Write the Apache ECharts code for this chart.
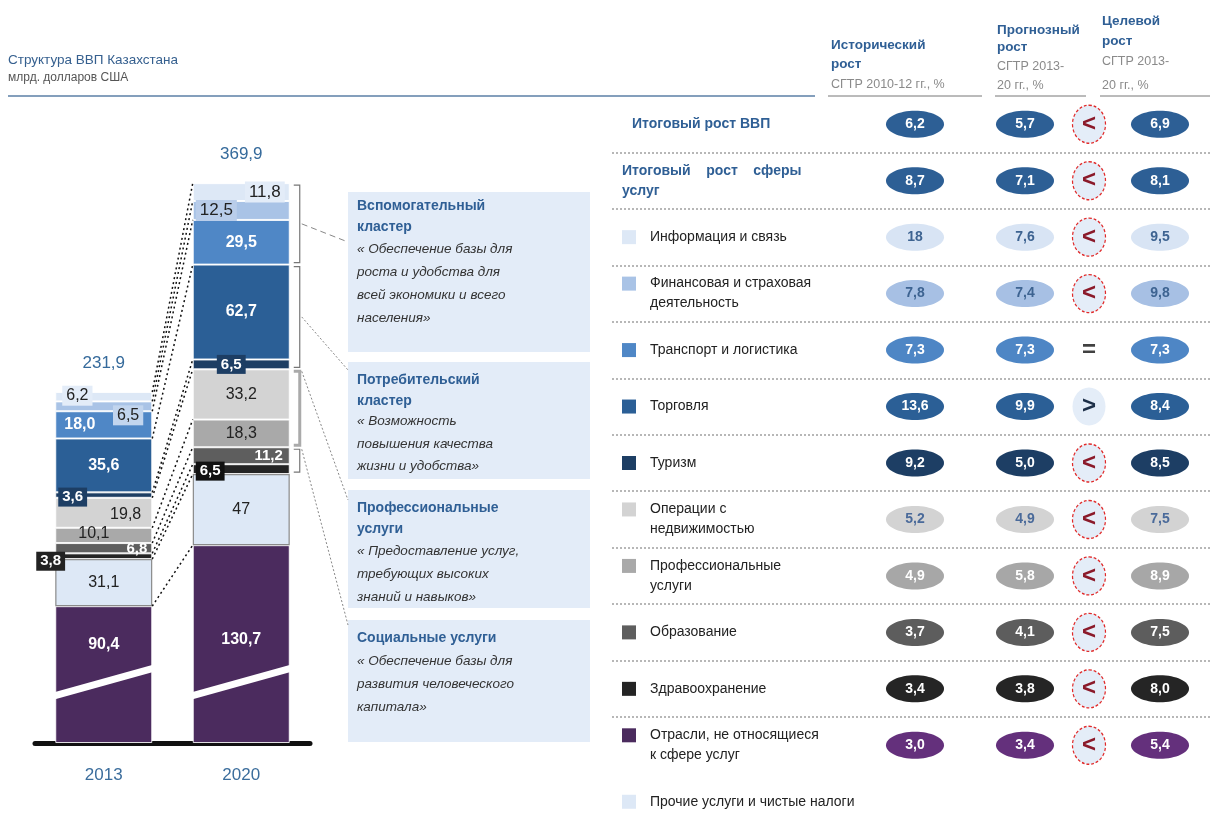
<!DOCTYPE html>
<html><head><meta charset="utf-8">
<script src="https://cdn.jsdelivr.net/npm/echarts@6/dist/echarts.min.js"></script>
<style>html,body{margin:0;padding:0;background:#fff}#c{width:1217px;height:830px}</style>
</head><body><div id="c"></div>
<script>
// ---------------- DATA ----------------
const years = ['2013', '2020'];
const segmentNames = ['Отрасли, не относящиеся к сфере услуг', 'Прочие услуги и чистые налоги', 'Здравоохранение', 'Образование', 'Профессиональные услуги', 'Операции с недвижимостью', 'Туризм', 'Торговля', 'Транспорт и логистика', 'Финансовая и страховая деятельность', 'Информация и связь'];
const gdp2013 = [90.4, 31.1, 3.8, 6.8, 10.1, 19.8, 3.6, 35.6, 18.0, 6.5, 6.2];
const gdp2020 = [130.7, 47, 6.5, 11.2, 18.3, 33.2, 6.5, 62.7, 29.5, 12.5, 11.8];

const rowLabels = ['Итоговый рост ВВП', 'Итоговый    рост    сферы\nуслуг', 'Информация и связь', 'Финансовая и страховая\nдеятельность', 'Транспорт и логистика', 'Торговля', 'Туризм', 'Операции с\nнедвижимостью', 'Профессиональные\nуслуги', 'Образование', 'Здравоохранение', 'Отрасли, не относящиеся\nк сфере услуг', 'Прочие услуги и чистые налоги'];
const histCAGR     = [6.2, 8.7, 18, 7.8, 7.3, 13.6, 9.2, 5.2, 4.9, 3.7, 3.4, 3.0];
const forecastCAGR = [5.7, 7.1, 7.6, 7.4, 7.3, 9.9, 5.0, 4.9, 5.8, 4.1, 3.8, 3.4];
const targetCAGR   = [6.9, 8.1, 9.5, 9.8, 7.3, 8.4, 8.5, 7.5, 8.9, 7.5, 8.0, 5.4];

const chartTitle = 'Структура ВВП Казахстана';
const chartUnit = 'млрд. долларов США';
const columnHeads = [
  ['Исторический', 'рост', 'СГТР 2010-12 гг., %'],
  ['Прогнозный', 'рост', 'СГТР 2013-', '20 гг., %'],
  ['Целевой', 'рост', 'СГТР 2013-', '20 гг., %']
];
const clusterTitles = ['Вспомогательный\nкластер', 'Потребительский\nкластер', 'Профессиональные\nуслуги', 'Социальные услуги'];
const clusterTexts = [
  '« Обеспечение базы для\nроста и удобства для\nвсей экономики и всего\nнаселения»',
  '« Возможность\nповышения качества\nжизни и удобства»',
  '« Предоставление услуг,\nтребующих высоких\nзнаний и навыков»',
  '« Обеспечение базы для\nразвития человеческого\nкапитала»'
];
const clusterSegments = [[8, 11], [6, 8], [4, 6], [2, 4]]; // segment index ranges per cluster
const breakAt = 40;

// ---------------- STYLE ----------------
const FONT = "'Liberation Sans', Arial, sans-serif";
const NARROW = "'Liberation Sans Narrow', 'Liberation Sans', Arial, sans-serif";
const BLUE = '#2f5f95';
const segColors = ['#4b2b5e', '#dde8f6', '#242424', '#5e5e5e', '#a9a9a9', '#d3d3d3', '#1d3e64', '#2b5f96', '#4f87c6', '#a9c3e6', '#dde8f6'];
const rowSegment = [null, null, 10, 9, 8, 7, 6, 5, 4, 3, 2, 0, 1];
const rowFill = ['#2d5f95', '#2d5f95', '#d8e4f4', '#a7c0e4', '#4e86c5', '#2b5f96', '#1d3e64', '#d3d3d3', '#a7a7a7', '#5d5d5d', '#252525', '#64307c'];
const rowText = ['#fff', '#fff', '#3d6391', '#3d6391', '#fff', '#fff', '#fff', '#4a6a9a', '#fff', '#fff', '#fff', '#fff'];
const ELLIPSE = 'path://M50,0C77.6,0,100,22.4,100,50C100,77.6,77.6,100,50,100C22.4,100,0,77.6,0,50C0,22.4,22.4,0,50,0Z';
const barDecimals = [[1, 1], [1, 0], [1, 1], [1, 1], [1, 1], [1, 1], [1, 1], [1, 1], [1, 1], [1, 1], [1, 1]];

const W = {color: '#fff', fontWeight: 'bold', fontSize: 16, fontFamily: FONT};
const D = {color: '#222', fontSize: 16, fontFamily: FONT};
const boxL = (bg, extra) => Object.assign({}, D, {backgroundColor: bg, padding: [2, 4]}, extra);
const boxW = (bg, extra) => Object.assign({}, W, {fontSize: 15, backgroundColor: bg, padding: [2, 4]}, extra);
const labelCfg = [
  [Object.assign({}, W, {position: 'inside', offset: [0, -30]}), Object.assign({}, W, {position: 'inside', offset: [0, -4]})],
  [Object.assign({}, D, {position: 'inside'}), Object.assign({}, D, {position: 'inside'})],
  [boxW('#222', {position: 'insideLeft', offset: [-24, 5]}), boxW('#111', {position: 'insideLeft', offset: [-2, 2]})],
  [Object.assign({}, W, {fontSize: 15, position: 'insideRight', offset: [0, 1]}), Object.assign({}, W, {fontSize: 15, position: 'insideRight', offset: [-2, 0]})],
  [Object.assign({}, D, {position: 'insideLeft', offset: [18, -2]}), Object.assign({}, D, {position: 'inside'})],
  [Object.assign({}, D, {position: 'insideRight', offset: [-6, 2]}), Object.assign({}, D, {position: 'inside'})],
  [boxW('#1d3e64', {position: 'insideLeft', offset: [-2, 2]}), boxW('#1d3e64', {position: 'inside', offset: [-10, 0]})],
  [Object.assign({}, W, {position: 'inside'}), Object.assign({}, W, {position: 'inside'})],
  [Object.assign({}, W, {position: 'insideLeft', offset: [4, 0]}), Object.assign({}, W, {position: 'inside'})],
  [boxL('#c2d5ee', {position: 'insideRight', offset: [-4, 9]}), boxL('#b9cdea', {fontSize: 17, position: 'insideLeft', offset: [-2, 0]})],
  [boxL('#e3ecf8', {position: 'insideLeft', offset: [2, -1]}), boxL('#e3ecf8', {fontSize: 17, position: 'insideRight', offset: [0, 0]})]
];

const fmtD = (v, d) => v.toFixed(d).replace('.', ',');
const fmt = v => (Number.isInteger(v) && v >= 10) ? String(v) : fmtD(v, 1);

// ---------------- BUILD ----------------
const chart = echarts.init(document.getElementById('c'));
const BAR_W = 97;
const tableTop = 96, tableH = 737;
const colCenters = [915, 1025, 1089, 1160];

const series = [];
segmentNames.forEach((name, s) => {
  series.push({
    name, type: 'bar', stack: 'gdp', xAxisIndex: 0, yAxisIndex: 0, barWidth: BAR_W,
    itemStyle: s === 1 ? {color: segColors[s], borderColor: '#8a8a8a', borderWidth: 1.2}
                       : {color: segColors[s], borderColor: 'rgba(255,255,255,0.85)', borderWidth: 1},
    label: {show: true},
    data: [gdp2013[s], gdp2020[s]].map((v, c) => ({
      value: v,
      label: Object.assign({show: true, formatter: () => fmtD(v, barDecimals[s][c])}, labelCfg[s][c])
    }))
  });
});
const sum = a => a.reduce((p, q) => p + q, 0);
const totals = [sum(gdp2013), sum(gdp2020)];
series.push({
  type: 'scatter', xAxisIndex: 0, yAxisIndex: 0, symbolSize: 1, itemStyle: {color: 'rgba(0,0,0,0)', opacity: 1},
  label: {show: true, position: 'top', distance: 20, color: '#356a9b', fontSize: 17, fontFamily: FONT,
          formatter: p => fmtD(p.value[1], 1)},
  data: totals.map((t, c) => [c, t])
});

function ellipseSeries(values, gi) {
  return {
    type: 'scatter', xAxisIndex: gi, yAxisIndex: gi, symbol: ELLIPSE, symbolSize: [58, 27],
    data: values.map((v, i) => ({
      value: [0, i, v],
      itemStyle: {color: rowFill[i], opacity: 1},
      label: {show: true, position: 'inside', formatter: () => fmt(v), color: rowText[i],
              fontSize: 14, fontWeight: 'bold', fontFamily: NARROW}
    }))
  };
}
series.push(ellipseSeries(histCAGR, 2));
series.push(ellipseSeries(forecastCAGR, 3));
series.push({
  type: 'scatter', xAxisIndex: 4, yAxisIndex: 4, symbol: ELLIPSE, symbolSize: [33, 38],
  data: forecastCAGR.map((f, i) => {
    const t = targetCAGR[i];
    const sym = f < t ? '<' : (f > t ? '>' : '=');
    const style = sym === '<' ? {color: '#e4edf8', borderColor: '#e02a2a', borderWidth: 1.3, borderType: [3, 2], opacity: 1}
                : sym === '>' ? {color: '#e4edf8', borderWidth: 0, opacity: 1}
                : {color: 'rgba(0,0,0,0)', borderWidth: 0};
    return {
      value: [0, i],
      itemStyle: style,
      label: {show: true, position: 'inside', formatter: sym, fontSize: 24, fontWeight: 'bold', fontFamily: FONT,
              color: sym === '<' ? '#8b1a2a' : (sym === '=' ? '#111' : '#1d2f48')}
    };
  })
});
series.push(ellipseSeries(targetCAGR, 5));

const rich = {
  h0: {fontSize: 14, fontWeight: 'bold', color: BLUE, fontFamily: FONT, padding: [0, 0, 0, 10], lineHeight: 20},
  h: {fontSize: 14, fontWeight: 'bold', color: BLUE, fontFamily: FONT, lineHeight: 20},
  t: {fontSize: 14, color: '#222', fontFamily: FONT, padding: [0, 0, 0, 14], lineHeight: 20},
  g: {width: 14, height: 14}
};
rowLabels.forEach((_, i) => {
  if (rowSegment[i] != null) rich['s' + i] = {width: 14, height: 14, backgroundColor: segColors[rowSegment[i]]};
});

const grids = [{left: 35, top: 183, width: 275, height: 560},
               {left: 612, top: tableTop, width: 598, height: tableH}];
colCenters.forEach(cx => grids.push({left: cx - 35, top: tableTop, width: 70, height: tableH}));

const lastRow = rowLabels.length - 1;
const xAxes = [
  {type: 'category', gridIndex: 0, data: years, axisTick: {show: false},
   axisLine: {lineStyle: {color: '#111', width: 5}},
   axisLabel: {color: '#3b6d9c', fontSize: 17, margin: 24, fontFamily: FONT}},
  {type: 'value', gridIndex: 1, min: 0, max: 1, show: false}
];
const yAxes = [
  {type: 'value', gridIndex: 0, min: 0, max: 370, show: false},
  {type: 'category', gridIndex: 1, data: rowLabels, inverse: true,
   axisLine: {show: false}, axisTick: {show: false},
   axisLabel: {interval: 0, align: 'left', margin: -10, rich,
     formatter: (val, idx) => {
       const lines = val.split('\n');
       if (idx === 0) return lines.map(l => '{h0|' + l + '}').join('\n');
       if (idx === 1) return lines.map(l => '{h|' + l + '}').join('\n');
       return lines.map((l, k) => (k === 0 ? '{s' + idx + '|}' : '{g|}') + '{t|' + l + '}').join('\n');
     }},
   splitLine: {show: true, interval: (i) => i !== lastRow, showMinLine: false, showMaxLine: false,
               lineStyle: {color: '#a0a0a0', type: [2, 2], width: 1.5}}}
];
colCenters.forEach((cx, k) => {
  xAxes.push({type: 'category', gridIndex: k + 2, data: [''], show: false});
  yAxes.push({type: 'category', gridIndex: k + 2, data: rowLabels, inverse: true, show: false});
});

chart.setOption({
  animation: false,
  backgroundColor: '#fff',
  grid: grids, xAxis: xAxes, yAxis: yAxes, series
});

// ---------------- ANNOTATIONS ----------------
const g = [];
const T = (x, y, text, opt) => ({type: 'text', x, y, z: 20,
  style: Object.assign({text, fill: '#222', fontSize: 13, fontFamily: FONT, verticalAlign: 'middle', align: 'left'}, opt)});
const L = (x1, y1, x2, y2, stroke, lineWidth, lineDash) => ({type: 'line', z: 15,
  shape: {x1, y1, x2, y2}, style: {stroke, lineWidth, lineDash: lineDash || null}});

g.push(T(8, 60, chartTitle, {fill: '#36608f', fontSize: 13.5}));
g.push(T(8, 78, chartUnit, {fill: '#555', fontSize: 12}));
g.push(L(8, 96, 815, 96, '#5b7fa6', 1.5));

const headX = [831, 997, 1102];
const headY = [[45, 64, 85], [30, 47, 67, 86], [21, 41, 62, 86]];
const headLine = [[828, 982], [995, 1086], [1100, 1210]];
columnHeads.forEach((lines, k) => {
  lines.forEach((txt, j) => {
    const bold = j < 2;
    g.push(T(headX[k], headY[k][j], txt, bold ? {fill: BLUE, fontWeight: 'bold', fontSize: 13.5} : {fill: '#8a8a8a', fontSize: 12.5}));
  });
  g.push(L(headLine[k][0], 96, headLine[k][1], 96, '#777', 1));
});

const boxes = [{y: 192, h: 160, ty: 196, by: 238, blh: 23},
               {y: 362, h: 117, ty: 370, by: 410, blh: 22.5},
               {y: 490, h: 118, ty: 498, by: 540, blh: 23},
               {y: 620, h: 122, ty: 628, by: 650, blh: 23}];
boxes.forEach((b, k) => {
  g.push({type: 'rect', z: 5, shape: {x: 348, y: b.y, width: 242, height: b.h}, style: {fill: '#e3ecf8'}});
  g.push(T(357, b.ty, clusterTitles[k], {fill: BLUE, fontWeight: 'bold', fontSize: 14, verticalAlign: 'top', lineHeight: 20.5}));
  g.push(T(357, b.by, clusterTexts[k], {fill: '#333', fontStyle: 'italic', fontSize: 13.5, verticalAlign: 'top', lineHeight: b.blh}));
});

const P = (c, v) => chart.convertToPixel({xAxisIndex: 0, yAxisIndex: 0}, [c, v]);
const cum = a => a.reduce((acc, v) => { acc.push(acc[acc.length - 1] + v); return acc; }, [0]);
const c13 = cum(gdp2013), c20 = cum(gdp2020);
const hw = BAR_W / 2;
for (let j = 1; j < c13.length; j++) {
  const a = P(0, c13[j]), b = P(1, c20[j]);
  g.push(L(a[0] + hw, a[1], b[0] - hw, b[1], '#111', 1.5, [2, 3]));
}
const bx = P(1, 0)[0] + hw + 10;
const targets = [[348, 242], [348, 370], [348, 500], [348, 625]];
clusterSegments.forEach((r, k) => {
  const yTop = P(1, c20[r[1]])[1] + 2, yBot = P(1, c20[r[0]])[1] - 2;
  const col = k === 2 ? '#aaa' : '#777';
  const w = k === 2 ? 3 : 1.2;
  g.push({type: 'polyline', z: 15, shape: {points: [[bx - 6, yTop], [bx, yTop], [bx, yBot], [bx - 6, yBot]]},
          style: {stroke: col, lineWidth: w, fill: null}});
  const ay = (k < 2) ? (yTop + yBot) / 2 : yTop;
  g.push(L(bx + 2, ay, targets[k][0], targets[k][1], '#888', 1, k === 0 ? [6, 4] : [2, 2]));
});
[0, 1].forEach(c => {
  const p = P(c, breakAt);
  g.push(L(p[0] - hw - 10, p[1] + 16, p[0] + hw + 8, p[1] - 16, '#fff', 7));
});

chart.setOption({graphic: {elements: g}});
</script>
</body></html>
